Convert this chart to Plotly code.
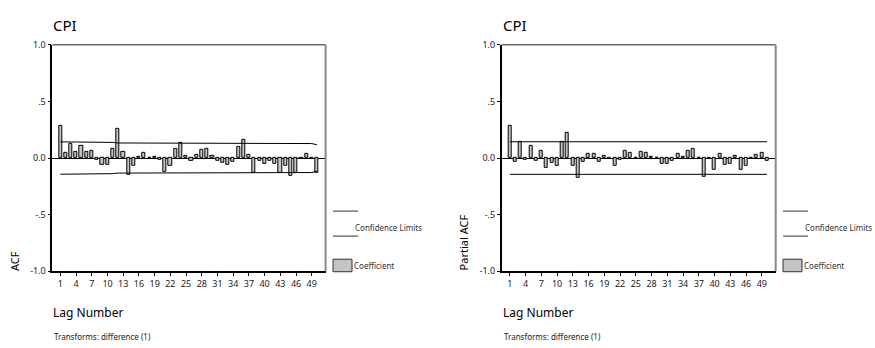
import plotly.graph_objects as go

lags = list(range(1, 51))
acf_values = [0.287, 0.045, 0.125, 0.057, 0.110, 0.057, 0.065, -0.015, -0.062, -0.057,
              0.080, 0.255, 0.057, -0.148, -0.065, 0.015, 0.048, 0.004, 0.015, -0.020,
              -0.125, -0.065, 0.080, 0.133, 0.022, -0.028, 0.031, 0.074, 0.082, 0.017,
              -0.028, -0.045, -0.057, -0.037, 0.096, 0.159, 0.031, -0.130, -0.028, -0.048,
              -0.022, -0.051, -0.130, -0.065, -0.160, -0.128, -0.004, 0.040, -0.010, -0.130]
acf_conf = [0.143] * 10 + [0.138] + [0.133] * 19 + [0.128] * 19 + [0.117]

pacf_values = [0.287, -0.037, 0.139, -0.017, 0.110, -0.028, 0.065, -0.088, -0.045, -0.065,
               0.139, 0.224, -0.065, -0.179, -0.037, 0.040, 0.040, -0.037, 0.017, -0.011,
               -0.065, -0.020, 0.065, 0.048, 0.002, 0.057, 0.048, 0.011, 0.003, -0.054,
               -0.054, -0.028, 0.040, 0.011, 0.065, 0.082, 0.003, -0.162, -0.011, -0.105,
               0.040, -0.060, -0.054, 0.023, -0.105, -0.065, -0.011, 0.031, 0.048, -0.028]
pacf_conf = [0.144] * 50

x_tick_vals = list(range(1, 50, 3))
y_tick_vals = [-1.0, -0.5, 0.0, 0.5, 1.0]
y_tick_text = ["-1.0", "-.5", "0.0", ".5", "1.0"]

W, H = 875, 348
FONT = "Noto Sans"
BAR_FILL = "#c4c4c4"

fig = go.Figure()

panels = [
    dict(vals=acf_values, conf=acf_conf, xa="x", ya="y", left=52.3, right=325.6, ytitle="ACF",
         leg=333),
    dict(vals=pacf_values, conf=pacf_conf, xa="x2", ya="y2", left=501.7, right=775.7,
         ytitle="Partial ACF", leg=783),
]

top_px, bot_px = 39.3, 274.5
shapes = []
annotations = []
for i, p in enumerate(panels):
    fig.add_trace(go.Bar(x=lags, y=p["vals"], width=0.6, marker=dict(color=BAR_FILL,
                         line=dict(color="black", width=1)), xaxis=p["xa"], yaxis=p["ya"],
                         showlegend=False, hoverinfo="x+y"))
    fig.add_trace(go.Scatter(x=lags, y=p["conf"], mode="lines", line=dict(color="black", width=1),
                             xaxis=p["xa"], yaxis=p["ya"], showlegend=False))
    fig.add_trace(go.Scatter(x=lags, y=[-c for c in p["conf"]], mode="lines",
                             line=dict(color="black", width=1),
                             xaxis=p["xa"], yaxis=p["ya"], showlegend=False))
    sfx = "" if i == 0 else "2"
    dom = [p["left"] / W, p["right"] / W]
    ydom = [1 - bot_px / H, 1 - top_px / H]
    fig.update_layout(**{
        "xaxis" + sfx: dict(domain=dom, range=[-0.55, 51.65], tickvals=x_tick_vals,
                            ticks="outside", ticklen=3, tickcolor="black", showgrid=False,
                            zeroline=False, showline=True, linecolor="black", linewidth=1.5,
                            anchor="y" + sfx, tickfont=dict(size=9, color="#222", family=FONT)),
        "yaxis" + sfx: dict(domain=ydom, range=[-1.0, 1.0], tickvals=y_tick_vals,
                            ticktext=y_tick_text, ticks="outside", ticklen=3, tickcolor="black",
                            showgrid=False, zeroline=True, zerolinecolor="black", zerolinewidth=1,
                            showline=True, linecolor="black", linewidth=1.5,
                            anchor="x" + sfx, tickfont=dict(size=9, color="#222", family=FONT)),
    })
    xd = "x" + sfx + " domain"
    yd = "y" + sfx + " domain"
    # top and right frame lines
    shapes.append(dict(type="line", xref=xd, yref=yd, x0=0, x1=1, y0=1, y1=1,
                       line=dict(color="#222", width=1)))
    shapes.append(dict(type="line", xref=xd, yref=yd, x0=1, x1=1, y0=0, y1=1,
                       line=dict(color="#888", width=2)))
    # legend
    lx = p["leg"]
    for ly in (212, 238):
        shapes.append(dict(type="line", xref="paper", yref="paper", x0=lx / W, x1=(lx + 25) / W,
                           y0=1 - ly / H, y1=1 - ly / H, line=dict(color="#333", width=1)))
    shapes.append(dict(type="rect", xref="paper", yref="paper", x0=lx / W, x1=(lx + 19) / W,
                       y0=1 - 275 / H, y1=1 - 262 / H, fillcolor=BAR_FILL,
                       line=dict(color="#333", width=1)))
    annotations.append(dict(text="Confidence Limits", xref="paper", yref="paper",
                            x=(lx + 20) / W, y=1 - 229 / H, xanchor="left", yanchor="middle",
                            showarrow=False, font=dict(size=8, color="#333", family=FONT)))
    annotations.append(dict(text="Coefficient", xref="paper", yref="paper",
                            x=(lx + 19) / W, y=1 - 269 / H, xanchor="left", yanchor="middle",
                            showarrow=False, font=dict(size=8, color="#333", family=FONT)))
    # titles
    L = p["left"]
    annotations.append(dict(text="CPI", xref="paper", yref="paper", x=(L - 1) / W, y=1 - 18.5 / H,
                            xanchor="left", yanchor="middle", showarrow=False,
                            font=dict(size=15, color="black", family=FONT)))
    annotations.append(dict(text="Lag Number", xref="paper", yref="paper", x=(L - 1) / W,
                            y=1 - 317 / H, xanchor="left", yanchor="middle", showarrow=False,
                            font=dict(size=12, color="black", family=FONT)))
    annotations.append(dict(text="Transforms: difference (1)", xref="paper", yref="paper",
                            x=L / W, y=1 - 342 / H, xanchor="left", yanchor="middle",
                            showarrow=False, font=dict(size=8, color="#222", family=FONT)))
    annotations.append(dict(text=p["ytitle"], xref="paper", yref="paper", x=(L - 38) / W,
                            y=1 - 276 / H, xanchor="center", yanchor="bottom", textangle=-90,
                            showarrow=False, font=dict(size=11, color="black", family=FONT)))

fig.update_layout(width=W, height=H, margin=dict(l=0, r=0, t=0, b=0),
                  paper_bgcolor="white", plot_bgcolor="white", bargap=0,
                  shapes=shapes, annotations=annotations, showlegend=False,
                  font=dict(family=FONT))

fig.write_html("out.html")
